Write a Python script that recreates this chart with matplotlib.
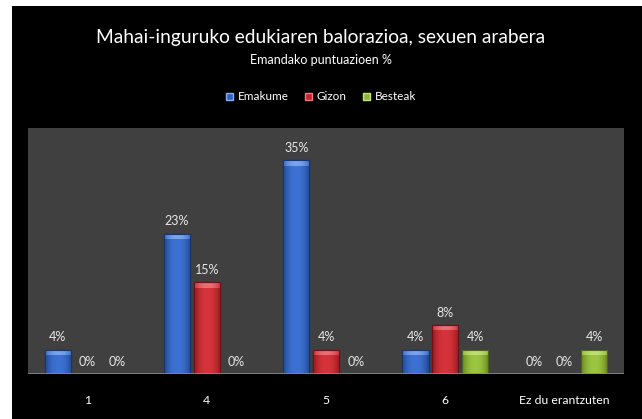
import matplotlib
matplotlib.use("Agg")
import matplotlib.pyplot as plt
import numpy as np
from matplotlib.patches import Patch, Rectangle
from matplotlib.colors import to_rgb

categories = ["1", "4", "5", "6", "Ez du erantzuten"]
series_names = ["Emakume", "Gizon", "Besteak"]
emakume = [4, 23, 35, 4, 0]
gizon = [0, 15, 4, 8, 0]
besteak = [0, 0, 0, 4, 4]
value_labels = [
    ["4%", "23%", "35%", "4%", "0%"],
    ["0%", "15%", "4%", "8%", "0%"],
    ["0%", "0%", "0%", "4%", "4%"],
]

colors = ["#2F62BE", "#C4262E", "#8CB33A"]
mids = ["#3D72D4", "#D6343C", "#9CC640"]
sides = ["#22488F", "#951A20", "#66851F"]
edges = ["#17356E", "#6E1015", "#4C6517"]
highlights = ["#86AEF2", "#EE7A80", "#C6E47C"]

FONT = ["Lato", "DejaVu Sans"]
plt.rcParams["font.family"] = FONT

W, H = 642, 419
fig = plt.figure(figsize=(W / 100, H / 100), dpi=100, facecolor="white")
fig.patches.append(Rectangle((12 / W, 0), 1 - 12 / W, 1 - 6 / H,
                             transform=fig.transFigure, facecolor="black",
                             edgecolor="none", zorder=-10))

ax = fig.add_axes([28 / W, (H - 374) / H, (624 - 28) / W, (374 - 128) / H])
ax.set_facecolor("#404040")
for s in ax.spines.values():
    s.set_visible(False)
ax.axhline(0, color="#8A8A8A", lw=1.2, zorder=5)


def hgrad(c_side, c_mid, n=40):
    a = np.array(to_rgb(c_side))
    b = np.array(to_rgb(c_mid))
    t = np.linspace(-1, 1, n)
    w = (1 - np.abs(t) ** 2.2)[:, None]
    row = a * (1 - w) + b * w
    return row[None, :, :]


x = np.arange(len(categories))
width = 0.22
step = 0.25
data = [emakume, gizon, besteak]
bevel = 0.85
for i, vals in enumerate(data):
    pos = x + (i - 1) * step
    vals = np.array(vals, dtype=float)
    bars = ax.bar(pos, vals, width, color=colors[i], edgecolor=edges[i], lw=0.8, zorder=2)
    for b, v in zip(bars, vals):
        if v <= 0:
            continue
        x0, w_ = b.get_x(), b.get_width()
        im = ax.imshow(hgrad(sides[i], mids[i]), extent=(x0, x0 + w_, 0, v),
                       aspect="auto", interpolation="bilinear", zorder=2.2)
        im.set_clip_path(b)
        hb = min(bevel, v)
        im2 = ax.imshow(hgrad(mids[i], highlights[i]), extent=(x0, x0 + w_, v - hb, v),
                        aspect="auto", interpolation="bilinear", zorder=2.4, alpha=0.85)
        im2.set_clip_path(b)
        ax.add_patch(Rectangle((x0, 0), w_, v, facecolor="none", edgecolor=edges[i],
                               lw=0.8, zorder=2.6))
    for p, v, lab in zip(pos, vals, value_labels[i]):
        ax.annotate(lab, (p, v), xytext=(0, 9), textcoords="offset points",
                    ha="center", va="center", color="#E8E8E8", fontsize=9)

ax.set_xlim(-0.5, len(categories) - 0.5)
ax.set_ylim(0, 40.3)
ax.set_yticks([])
ax.set_xticks(x)
ax.set_xticklabels(categories, color="white", fontsize=8.8)
ax.tick_params(axis="x", length=0, pad=15)

fig.text(0.5, 1 - 37 / H, "Mahai-inguruko edukiaren balorazioa, sexuen arabera",
         ha="center", va="center", color="white", fontsize=13.8)
fig.text(0.5, 1 - 60 / H, "Emandako puntuazioen %", ha="center", va="center",
         color="white", fontsize=9)

handles = [Patch(facecolor=colors[i], edgecolor=highlights[i], label=series_names[i])
           for i in range(3)]
leg = fig.legend(handles=handles, loc="center", bbox_to_anchor=(0.5, 1 - 97 / H),
                 ncol=3, frameon=False, fontsize=8.5, handlelength=0.6, handleheight=0.6,
                 handletextpad=0.4, columnspacing=1.4)
for t in leg.get_texts():
    t.set_color("white")

fig.savefig("out.png", dpi=100, facecolor="white")
